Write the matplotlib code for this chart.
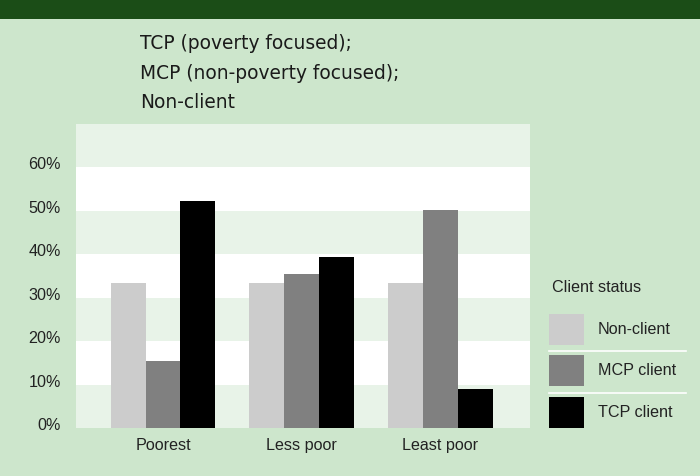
import matplotlib
matplotlib.use("Agg")
import matplotlib.pyplot as plt
from matplotlib.patches import Rectangle
from matplotlib.lines import Line2D
from matplotlib.transforms import ScaledTranslation
import numpy as np

# data (percent)
categories = ["Poorest", "Less poor", "Least poor"]
series_names = ["Non-client", "MCP client", "TCP client"]
non_client = [33.4, 33.4, 33.4]
mcp_client = [15.4, 35.6, 50.3]
tcp_client = [52.4, 39.3, 9.0]
yticks = [0, 10, 20, 30, 40, 50, 60]
title_lines = ["TCP (poverty focused);", "MCP (non-poverty focused);", "Non-client"]

bar_colors = ["#cccccc", "#808080", "#000000"]
bg_green = "#cde6cc"
dark_green = "#1b4d17"
band_light = "#e8f3e8"
text_dark = "#222222"

W, H = 700, 476
fig = plt.figure(figsize=(W / 100, H / 100), dpi=100, facecolor=bg_green)

def fx(px):
    return px / W

def fy(py):
    return 1 - py / H

# dark header strip
fig.add_artist(Rectangle((0, fy(19)), 1, 19 / H, transform=fig.transFigure,
                         facecolor=dark_green, edgecolor="none"))

# title lines
for line, ypx in zip(title_lines, [43.5, 73.5, 102.5]):
    fig.text(fx(140), fy(ypx), line, fontsize=13.4, family="DejaVu Sans",
             color="#1a1a1a", va="center", ha="left")

ax = fig.add_axes([fx(76), fy(428.3), fx(530) - fx(76), (428.3 - 124) / H])
ax.set_facecolor("white")

# alternating horizontal bands
for i in range(7):
    if i % 2 == 0:
        ax.axhspan(i * 10, (i + 1) * 10, color=band_light, lw=0, zorder=0)

x = np.arange(len(categories))
w = 0.252
for k, vals in enumerate([non_client, mcp_client, tcp_client]):
    ax.bar(x + (k - 1) * w, vals, width=w, color=bar_colors[k], zorder=2,
           linewidth=0)

ax.set_xlim(-0.627, 2.645)
ax.set_ylim(0, 70)
ax.set_xticks(x)
ax.set_xticklabels(categories, fontsize=11.6, family="Liberation Sans", color=text_dark)
ax.set_yticks(yticks)
ax.set_yticklabels([f"{v}%" for v in yticks], fontsize=11.6,
                   family="Liberation Sans", color=text_dark)
ax.tick_params(axis="both", length=0)
ax.tick_params(axis="x", pad=7)
ax.tick_params(axis="y", pad=11)
for lab in ax.get_yticklabels():
    lab.set_transform(lab.get_transform() + ScaledTranslation(0, 4 / 100, fig.dpi_scale_trans))
for s in ax.spines.values():
    s.set_visible(False)

# legend, drawn by hand to keep the white separators
fig.text(fx(552), fy(287), "Client status", fontsize=11.6, family="Liberation Sans",
         color=text_dark, va="center", ha="left")
patch_tops = [314, 355, 397]
for name, col, top in zip(series_names, bar_colors, patch_tops):
    fig.add_artist(Rectangle((fx(549), fy(top + 31)), 35 / W, 31 / H,
                             transform=fig.transFigure, facecolor=col, edgecolor="none"))
    fig.text(fx(598), fy(top + 15.5), name, fontsize=11.6, family="Liberation Sans",
             color=text_dark, va="center", ha="left")
for ypx in [350.5, 392.5]:
    fig.add_artist(Line2D([fx(549), fx(686)], [fy(ypx), fy(ypx)],
                          transform=fig.transFigure, color="white", lw=1.2))

fig.savefig("out.png", dpi=100, facecolor=bg_green)
